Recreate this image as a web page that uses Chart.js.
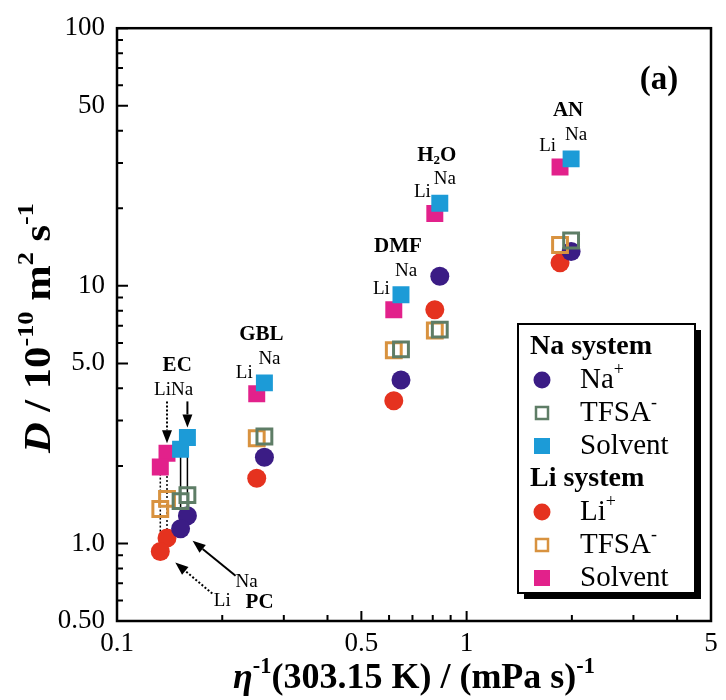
<!DOCTYPE html>
<html>
<head>
<meta charset="utf-8">
<script src="https://cdn.jsdelivr.net/npm/chart.js@4.4.0/dist/chart.umd.min.js"></script>
<style>
  html, body { margin: 0; padding: 0; background: #fff; }
  #wrap { width: 726px; height: 700px; position: relative; }
</style>
</head>
<body>
<div id="wrap"><canvas id="chart"></canvas></div>
<script>
// solvents, same order in every array below
const solvents = ['EC', 'PC', 'GBL', 'DMF', 'H2O', 'AN'];

// eta^-1 (303.15 K) / (mPa s)^-1
const naVisc = [0.159, 0.152, 0.264, 0.649, 0.838, 1.99];
const liVisc = [0.139, 0.133, 0.251, 0.619, 0.811, 1.85];

// D / 10^-10 m2 s-1
const naIon     = [1.28, 1.14, 2.16, 4.31, 10.9, 13.6];
const naTfsa    = [1.54, 1.46, 2.60, 5.67, 6.76, 15.0];
const naSolvent = [2.58, 2.32, 4.20, 9.23, 20.9, 31.1];
const liIon     = [1.05, 0.93, 1.79, 3.58, 8.08, 12.3];
const liTfsa    = [1.49, 1.36, 2.56, 5.62, 6.71, 14.4];
const liSolvent = [2.24, 1.98, 3.81, 8.08, 19.1, 28.9];

// axis labels
const xTicks = [0.1, 0.5, 1, 5];
const xTickLabels = ['0.1', '0.5', '1', '5'];
const yTicks = [0.5, 1, 5, 10, 50, 100];
const yTickLabels = ['0.50', '1.0', '5.0', '10', '50', '100'];

const SERIF = '"Liberation Serif", Tinos, "Times New Roman", serif';
const NAVY = '#3b1c85', GREEN = '#5e7d66', CYAN = '#1c9bd7';
const RED = '#e5321f', ORANGE = '#d8923f', MAGENTA = '#e2218b';

function pts(xs, ys) {
  return xs.map((x, i) => ({ x: x, y: ys[i] }));
}

function dot(label, data, color) {
  return { label, data, pointStyle: 'circle', pointRadius: 9.5, pointHoverRadius: 9.5,
    backgroundColor: color, borderColor: color, borderWidth: 0, order: 2 };
}
function box(label, data, color, open) {
  return { label, data, pointStyle: 'rect', pointRadius: open ? 10.5 : 12, pointHoverRadius: 12,
    backgroundColor: open ? 'rgba(255,255,255,0)' : color, borderColor: color,
    borderWidth: open ? 3 : 0, order: open ? 1 : 3 };
}

const datasets = [
  dot('Na+', pts(naVisc, naIon), NAVY),
  box('TFSA-', pts(naVisc, naTfsa), GREEN, true),
  box('Solvent', pts(naVisc, naSolvent), CYAN, false),
  dot('Li+', pts(liVisc, liIon), RED),
  box('TFSA-', pts(liVisc, liTfsa), ORANGE, true),
  box('Solvent', pts(liVisc, liSolvent), MAGENTA, false)
];

// vertical guide lines for EC and PC
[0, 1].forEach(i => {
  datasets.push({ label: 'guide', data: [{ x: liVisc[i], y: liIon[i] }, { x: liVisc[i], y: liSolvent[i] }],
    showLine: true, pointRadius: 0, borderColor: '#000', borderWidth: 1.5, borderDash: [2, 2], order: 10 });
  datasets.push({ label: 'guide', data: [{ x: naVisc[i], y: naIon[i] }, { x: naVisc[i], y: naSolvent[i] }],
    showLine: true, pointRadius: 0, borderColor: '#000', borderWidth: 1.5, order: 10 });
});

// text with superscripts / subscripts / italics
function drawRich(ctx, parts, x, y, size, bold, align) {
  const w = bold ? 'bold ' : '';
  let total = 0;
  const widths = parts.map(p => {
    const s = p.sup || p.sub ? size * 0.62 : size;
    ctx.font = (p.it ? 'italic ' : '') + w + s + 'px ' + SERIF;
    const m = ctx.measureText(p.t).width;
    total += m;
    return m;
  });
  let cx = align === 'center' ? x - total / 2 : (align === 'right' ? x - total : x);
  ctx.textAlign = 'left';
  ctx.textBaseline = 'middle';
  parts.forEach((p, i) => {
    const s = p.sup || p.sub ? size * 0.62 : size;
    ctx.font = (p.it ? 'italic ' : '') + w + s + 'px ' + SERIF;
    const dy = p.sup ? -size * 0.34 : (p.sub ? size * 0.24 : 0);
    ctx.fillText(p.t, cx, y + dy);
    cx += widths[i];
  });
}

function arrow(ctx, x1, y1, x2, y2, dashed) {
  const a = Math.atan2(y2 - y1, x2 - x1);
  const hl = 13, hw = 5;
  ctx.save();
  ctx.strokeStyle = '#000';
  ctx.fillStyle = '#000';
  ctx.lineWidth = 2;
  ctx.setLineDash(dashed ? [2, 2] : []);
  ctx.beginPath();
  ctx.moveTo(x1, y1);
  ctx.lineTo(x2 - hl * Math.cos(a), y2 - hl * Math.sin(a));
  ctx.stroke();
  ctx.setLineDash([]);
  ctx.beginPath();
  ctx.moveTo(x2, y2);
  ctx.lineTo(x2 - hl * Math.cos(a) + hw * Math.sin(a), y2 - hl * Math.sin(a) - hw * Math.cos(a));
  ctx.lineTo(x2 - hl * Math.cos(a) - hw * Math.sin(a), y2 - hl * Math.sin(a) + hw * Math.cos(a));
  ctx.closePath();
  ctx.fill();
  ctx.restore();
}

const decor = {
  id: 'decor',
  afterDraw(chart) {
    const ctx = chart.ctx;
    const a = chart.chartArea;
    const xs = chart.scales.x, ys = chart.scales.y;
    const px = v => xs.getPixelForValue(v);
    const py = v => ys.getPixelForValue(v);
    ctx.save();
    ctx.fillStyle = '#000';
    ctx.strokeStyle = '#000';

    // frame
    ctx.lineWidth = 2.5;
    ctx.strokeRect(a.left, a.top, a.right - a.left, a.bottom - a.top);

    // inward ticks
    ctx.lineWidth = 2;
    ctx.beginPath();
    [0.1, 1].forEach(d => {
      for (let k = 1; k <= 9; k++) {
        const v = d * k;
        if (v > 5.0001) break;
        const len = xTicks.includes(+v.toFixed(3)) ? 10 : 6;
        ctx.moveTo(px(v), a.bottom);
        ctx.lineTo(px(v), a.bottom - len);
      }
    });
    [0.1, 1, 10].forEach(d => {
      for (let k = 1; k <= 10; k++) {
        const v = +(d * k).toFixed(3);
        if (v < 0.5 || v > 100) continue;
        const len = yTicks.includes(v) ? 11 : 6;
        ctx.moveTo(a.left, py(v));
        ctx.lineTo(a.left + len, py(v));
      }
    });
    ctx.stroke();

    // axis titles
    drawRich(ctx, [{ t: 'η', it: true }, { t: '-1', sup: true }, { t: '(303.15 K) / (mPa s)' }, { t: '-1', sup: true }],
      (a.left + a.right) / 2, 679, 36, true, 'center');
    ctx.save();
    ctx.translate(40, 328);
    ctx.rotate(-Math.PI / 2);
    ctx.scale(1.12, 1);
    drawRich(ctx, [{ t: 'D', it: true }, { t: ' / 10' }, { t: '-10', sup: true }, { t: ' m' }, { t: '2', sup: true },
      { t: ' s' }, { t: '-1', sup: true }], 0, 0, 38, true, 'center');
    ctx.restore();

    drawRich(ctx, [{ t: '(a)' }], a.right - 52, a.top + 52, 33, true, 'center');

    // solvent labels above the solvent points
    for (let i = 2; i < solvents.length; i++) {
      const nx = px(naVisc[i]), ny = py(naSolvent[i]);
      const lx = px(liVisc[i]), ly = py(liSolvent[i]);
      const name = solvents[i] === 'H2O' ? [{ t: 'H' }, { t: '2', sub: true }, { t: 'O' }] : [{ t: solvents[i] }];
      drawRich(ctx, name, nx - 3, ny - 48, 21, true, 'center');
      drawRich(ctx, [{ t: 'Li' }], lx - 4, ly - 21, 19, false, 'right');
      drawRich(ctx, [{ t: 'Na' }], nx - 6, ny - 24, 19, false, 'left');
    }

    // EC
    const ecNx = px(naVisc[0]), ecNy = py(naSolvent[0]);
    const ecLx = px(liVisc[0]), ecLy = py(liSolvent[0]);
    drawRich(ctx, [{ t: 'EC' }], (ecNx + ecLx) / 2, ecNy - 72, 21, true, 'center');
    drawRich(ctx, [{ t: 'Li' }], ecLx + 4, ecNy - 47, 19, false, 'right');
    drawRich(ctx, [{ t: 'Na' }], ecLx + 4, ecNy - 47, 19, false, 'left');
    arrow(ctx, ecLx, ecNy - 36, ecLx, ecLy - 10, true);
    arrow(ctx, ecNx, ecNy - 36, ecNx, ecNy - 10, false);

    // PC
    const pcNx = px(naVisc[1]), pcNy = py(naIon[1]);
    const pcLx = px(liVisc[1]), pcLy = py(liIon[1]);
    arrow(ctx, pcNx + 55, pcNy + 47, pcNx + 12, pcNy + 12, false);
    arrow(ctx, pcLx + 52, pcLy + 42, pcLx + 15, pcLy + 11, true);
    drawRich(ctx, [{ t: 'Na' }], pcNx + 66, pcNy + 53, 19, false, 'center');
    drawRich(ctx, [{ t: 'Li' }], pcLx + 62, pcLy + 49, 19, false, 'center');
    drawRich(ctx, [{ t: 'PC' }], pcNx + 79, pcNy + 74, 21, true, 'center');

    // legend
    const bx = 518, by = 324, bw = 177, bh = 269;
    ctx.fillRect(bx + 6, by + 6, bw, bh);
    ctx.fillStyle = '#fff';
    ctx.fillRect(bx, by, bw, bh);
    ctx.lineWidth = 2;
    ctx.strokeRect(bx, by, bw, bh);
    ctx.fillStyle = '#000';
    const groups = [['Na system', 0], ['Li system', 3]];
    const entryText = [
      [{ t: 'Na' }, { t: '+', sup: true }], [{ t: 'TFSA' }, { t: '-', sup: true }], [{ t: 'Solvent' }],
      [{ t: 'Li' }, { t: '+', sup: true }], [{ t: 'TFSA' }, { t: '-', sup: true }], [{ t: 'Solvent' }]
    ];
    let y = by + 23;
    groups.forEach(([g, start]) => {
      ctx.fillStyle = '#000';
      drawRich(ctx, [{ t: g }], bx + 12, y, 28, true, 'left');
      y += 33;
      for (let j = start; j < start + 3; j++) {
        const ds = datasets[j];
        ctx.save();
        if (ds.pointStyle === 'circle') {
          ctx.fillStyle = ds.backgroundColor;
          ctx.beginPath();
          ctx.arc(bx + 24, y, 8.5, 0, Math.PI * 2);
          ctx.fill();
        } else if (ds.borderWidth) {
          ctx.strokeStyle = ds.borderColor;
          ctx.lineWidth = 2.5;
          ctx.strokeRect(bx + 18, y - 6, 12, 12);
        } else {
          ctx.fillStyle = ds.backgroundColor;
          ctx.fillRect(bx + 16, y - 8, 16, 16);
        }
        ctx.restore();
        ctx.fillStyle = '#000';
        drawRich(ctx, entryText[j], bx + 62, y, 29, false, 'left');
        y += 33;
      }
    });
    ctx.restore();
  }
};

function build() {
  new Chart(document.getElementById('chart'), {
    type: 'scatter',
    data: { datasets },
    options: {
      responsive: true,
      maintainAspectRatio: false,
      animation: false,
      layout: { padding: { top: 23, right: 12, left: 0, bottom: 0 } },
      plugins: { legend: { display: false }, tooltip: { enabled: false } },
      scales: {
        x: {
          type: 'logarithmic', min: 0.1, max: 5,
          afterBuildTicks: s => { s.ticks = xTicks.map(v => ({ value: v })); },
          afterFit: s => { s.height = 79; },
          grid: { display: false, drawTicks: false },
          border: { display: false },
          ticks: {
            color: '#000', font: { family: SERIF, size: 27 }, padding: 7, maxRotation: 0, autoSkip: false,
            callback: v => xTickLabels[xTicks.indexOf(v)]
          }
        },
        y: {
          type: 'logarithmic', min: 0.5, max: 100,
          afterBuildTicks: s => { s.ticks = yTicks.map(v => ({ value: v })); },
          afterFit: s => { s.width = 117; },
          grid: { display: false, drawTicks: false },
          border: { display: false },
          ticks: {
            color: '#000', font: { family: SERIF, size: 27 }, padding: 12, autoSkip: false,
            callback: v => yTickLabels[yTicks.indexOf(v)]
          }
        }
      }
    },
    plugins: [decor]
  });
}

Promise.all([
  document.fonts.load('25px "Liberation Serif"'),
  document.fonts.load('bold 25px "Liberation Serif"'),
  document.fonts.load('italic bold 25px "Liberation Serif"')
]).then(build, build);
</script>
</body>
</html>
